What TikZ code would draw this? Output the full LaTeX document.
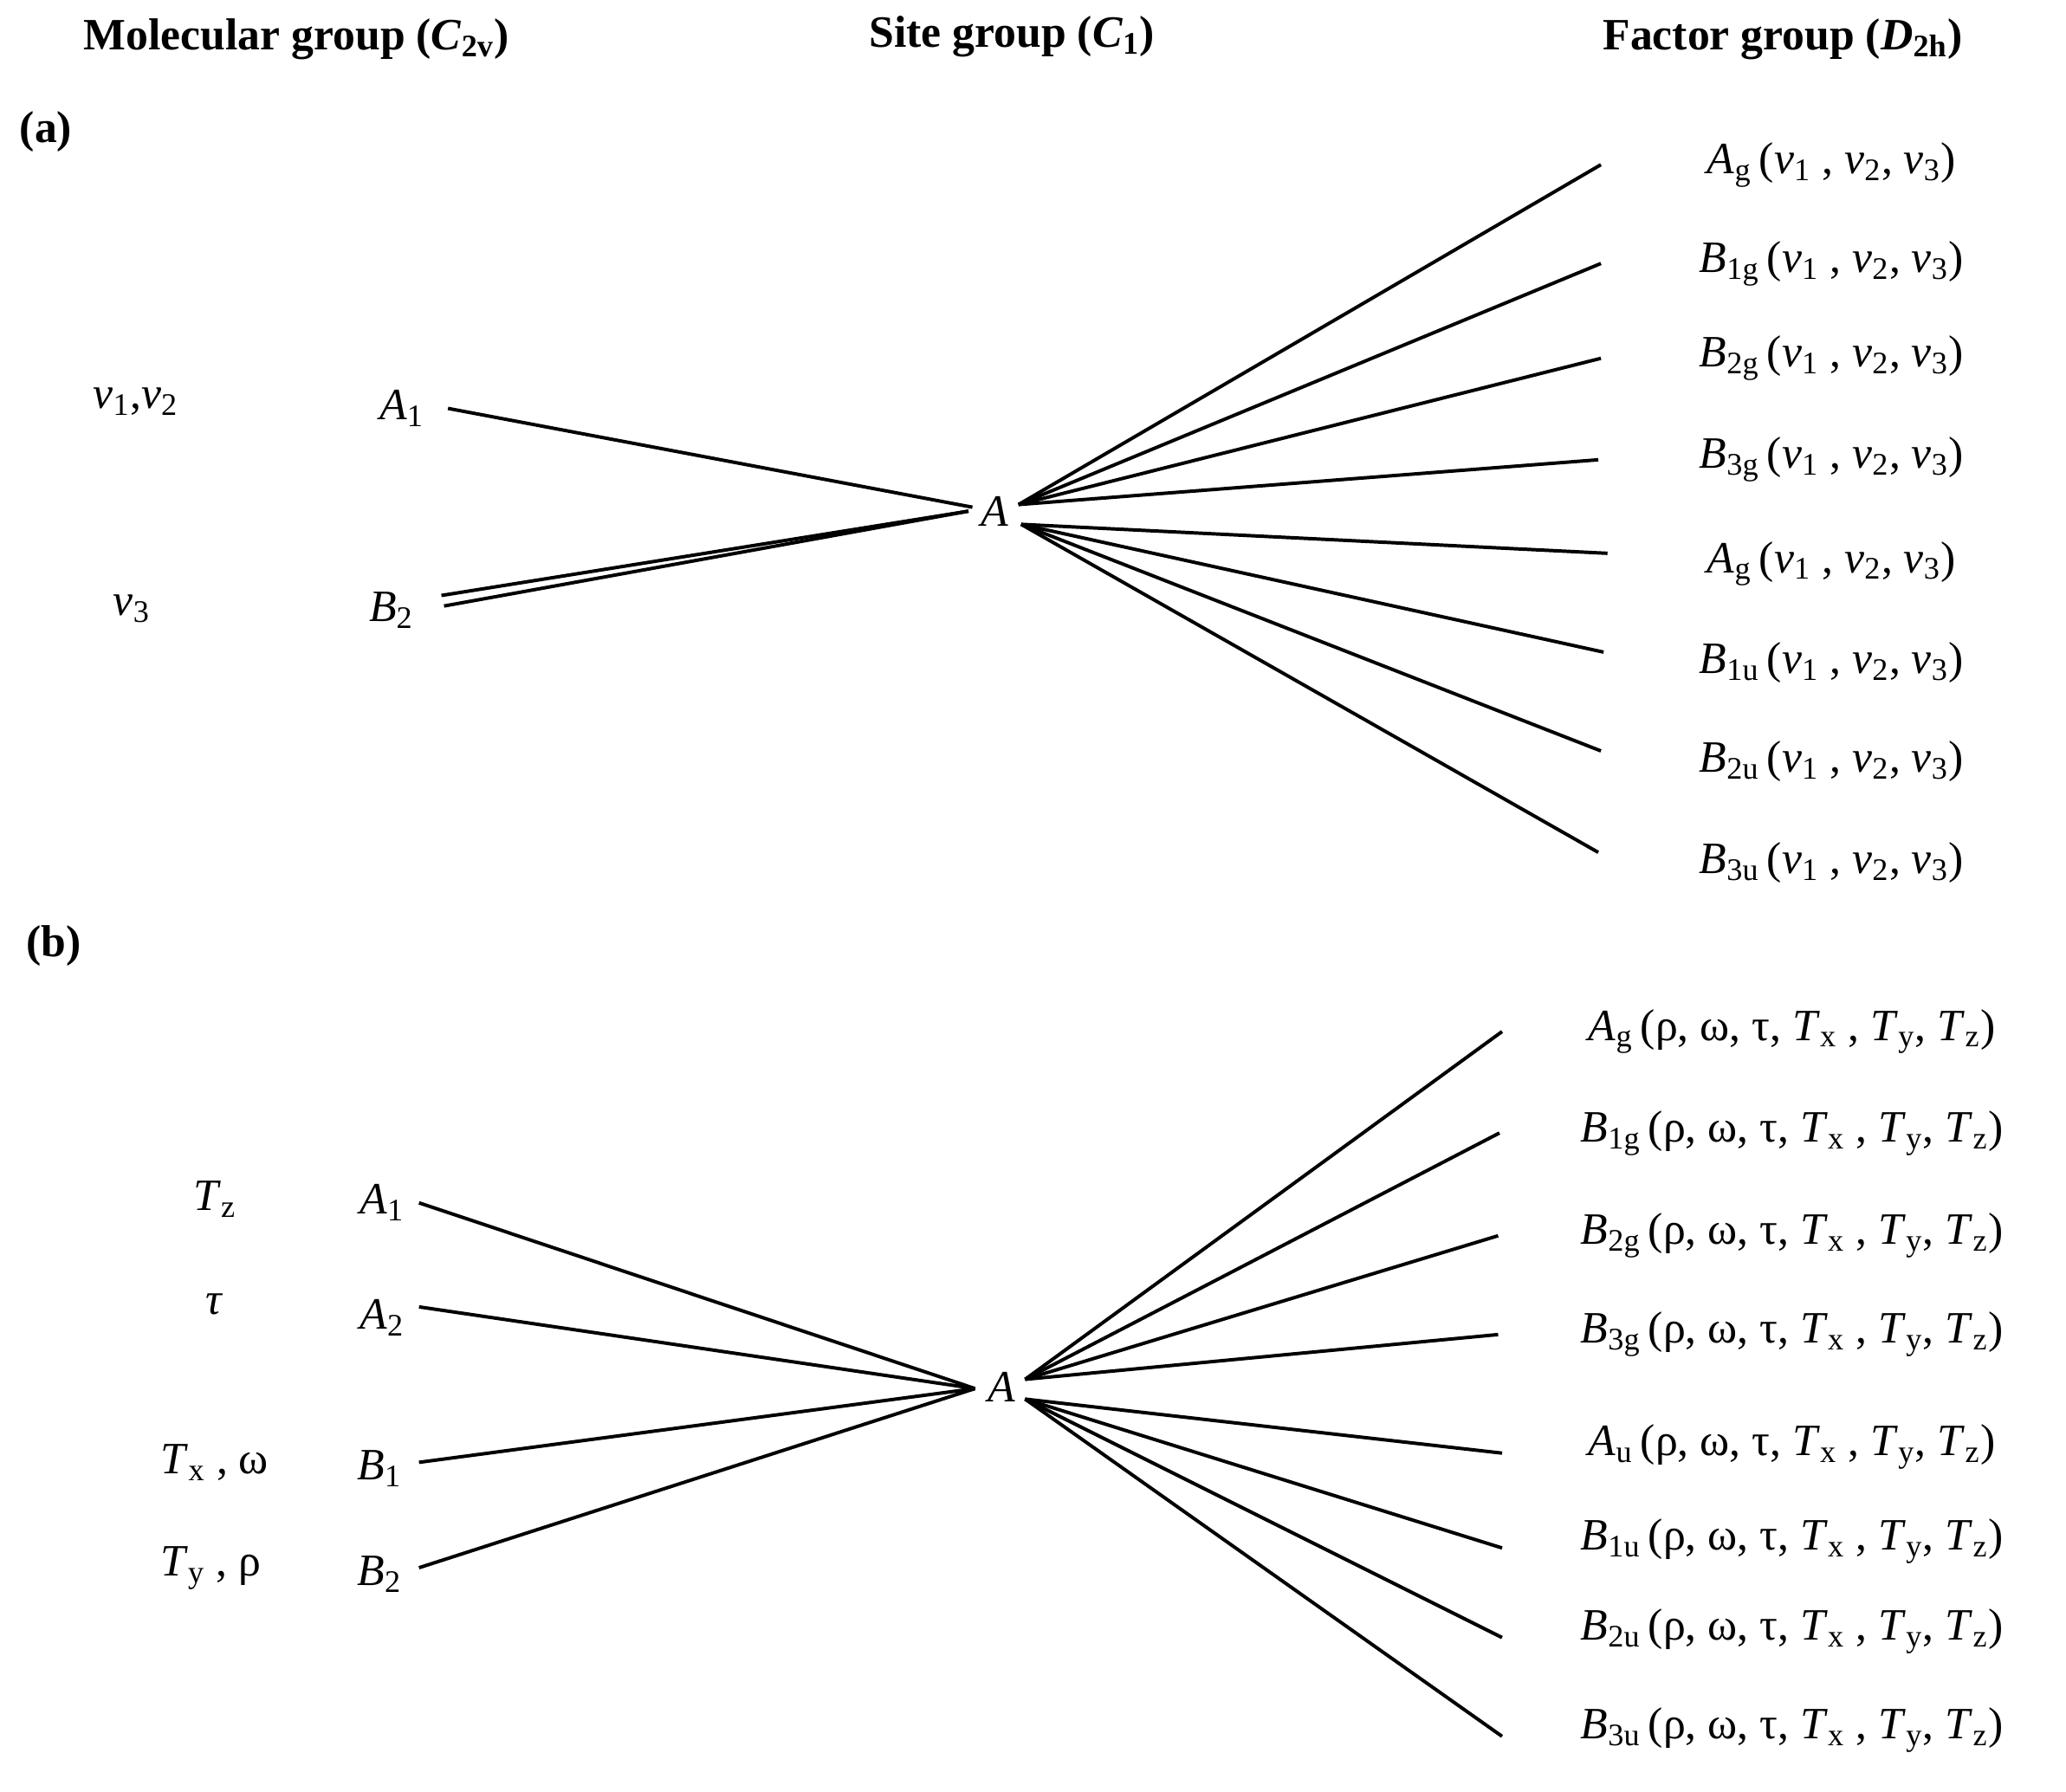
\documentclass[tikz,border=0pt]{standalone}
\usepackage{fontspec}
\setmainfont{Liberation Serif}
\newcommand{\ssb}[1]{\textsubscript{#1}}
\newcommand{\nus}{(\textit{ν}\ssb{1} , \textit{ν}\ssb{2}, \textit{ν}\ssb{3})}
\newcommand{\mds}{(ρ, ω, τ, \textit{T}\ssb{x} , \textit{T}\ssb{y}, \textit{T}\ssb{z})}
\begin{document}
\begin{tikzpicture}[x=0.5pt,y=-0.5pt,
  lab/.style={font=\fontsize{17}{20}\selectfont, inner sep=1pt},
  hd/.style={font=\fontsize{17}{20}\selectfont\bfseries},
  ln/.style={line width=1.3pt}]
\useasboundingbox (0,0) rectangle (1568,1360);
\node[hd] (h1) at (225,30) {Molecular group (\textit{C}\ssb{2v})};
\node[hd] (h2) at (768,28) {Site group (\textit{C}\ssb{1})};
\node[hd] (h3) at (1353,30) {Factor group (\textit{D}\ssb{2h})};
\node[hd,anchor=west] (pa) at (8,100) {(a)};
\node[hd,anchor=west] (pb) at (13,718) {(b)};
% (a)
\node[lab] (nu12) at (103,305) {\textit{ν}\ssb{1},\textit{ν}\ssb{2}};
\node[lab] (nu3) at (100,462) {\textit{ν}\ssb{3}};
\node[lab] (aA1) at (305,310) {\textit{A}\ssb{1}};
\node[lab] (aB2) at (297,463) {\textit{B}\ssb{2}};
\node[lab] (aA) at (755,388) {\textit{A}};
\coordinate (aA1e) at (340,310); \coordinate (aB2e1) at (335,452); \coordinate (aB2e2) at (337,460);
\coordinate (aAl) at (738,385); \coordinate (aAl2) at (735,388);
\coordinate (aAr1) at (773,383); \coordinate (aAr2) at (775,398);
\draw[ln] (aA1e) -- (aAl);
\draw[ln] (aB2e1) -- (aAl2);
\draw[ln] (aB2e2) -- (aAl2);
\foreach \y/\x/\t [count=\i] in {125/1215/{\textit{A}\ssb{g}},200/1215/{\textit{B}\ssb{1g}},272/1215/{\textit{B}\ssb{2g}},349/1213/{\textit{B}\ssb{3g}}}{
  \node[lab] (ar\i) at (1390,\y) {\t\,\nus};
  \coordinate (ae\i) at (\x,\y);
  \draw[ln] (aAr1) -- (ae\i);}
\foreach \y/\x/\t [count=\i from 5] in {428/1220/{\textit{A}\ssb{g}},503/1217/{\textit{B}\ssb{1u}},578/1215/{\textit{B}\ssb{2u}},655/1213/{\textit{B}\ssb{3u}}}{
  \node[lab] (ar\i) at (1390,\y) {\t\,\nus};
  \coordinate (ae\i) at (\x,\y-8);
  \draw[ln] (aAr2) -- (ae\i);}
% (b)
\node[lab] (tz) at (163,910) {\textit{T}\ssb{z}};
\node[lab] (tau) at (163,990) {\textit{τ}};
\node[lab] (txw) at (163,1110) {\textit{T}\ssb{x} , ω};
\node[lab] (tyr) at (160,1190) {\textit{T}\ssb{y} , ρ};
\node[lab] (bA1) at (290,913) {\textit{A}\ssb{1}};
\node[lab] (bA2) at (290,1000) {\textit{A}\ssb{2}};
\node[lab] (bB1) at (288,1115) {\textit{B}\ssb{1}};
\node[lab] (bB2) at (288,1195) {\textit{B}\ssb{2}};
\node[lab] (bA) at (760,1053) {\textit{A}};
\coordinate (bl1) at (318,913); \coordinate (bl2) at (318,992);
\coordinate (bl3) at (318,1110); \coordinate (bl4) at (318,1190);
\coordinate (bAl) at (740,1054);
\foreach \i in {1,...,4}{\draw[ln] (bl\i) -- (bAl);}
\coordinate (bAr1) at (778,1047); \coordinate (bAr2) at (778,1062);
\foreach \y/\x/\t [count=\i] in {783/1140/{\textit{A}\ssb{g}},860/1138/{\textit{B}\ssb{1g}},938/1137/{\textit{B}\ssb{2g}},1013/1137/{\textit{B}\ssb{3g}}}{
  \node[lab] (br\i) at (1360,\y) {\t\,\mds};
  \coordinate (be\i) at (\x,\y);
  \draw[ln] (bAr1) -- (be\i);}
\foreach \y/\x/\t [count=\i from 5] in {1103/1140/{\textit{A}\ssb{u}},1175/1140/{\textit{B}\ssb{1u}},1243/1140/{\textit{B}\ssb{2u}},1318/1140/{\textit{B}\ssb{3u}}}{
  \node[lab] (br\i) at (1360,\y-5) {\t\,\mds};
  \coordinate (be\i) at (\x,\y);
  \draw[ln] (bAr2) -- (be\i);}
\end{tikzpicture}
\end{document}
